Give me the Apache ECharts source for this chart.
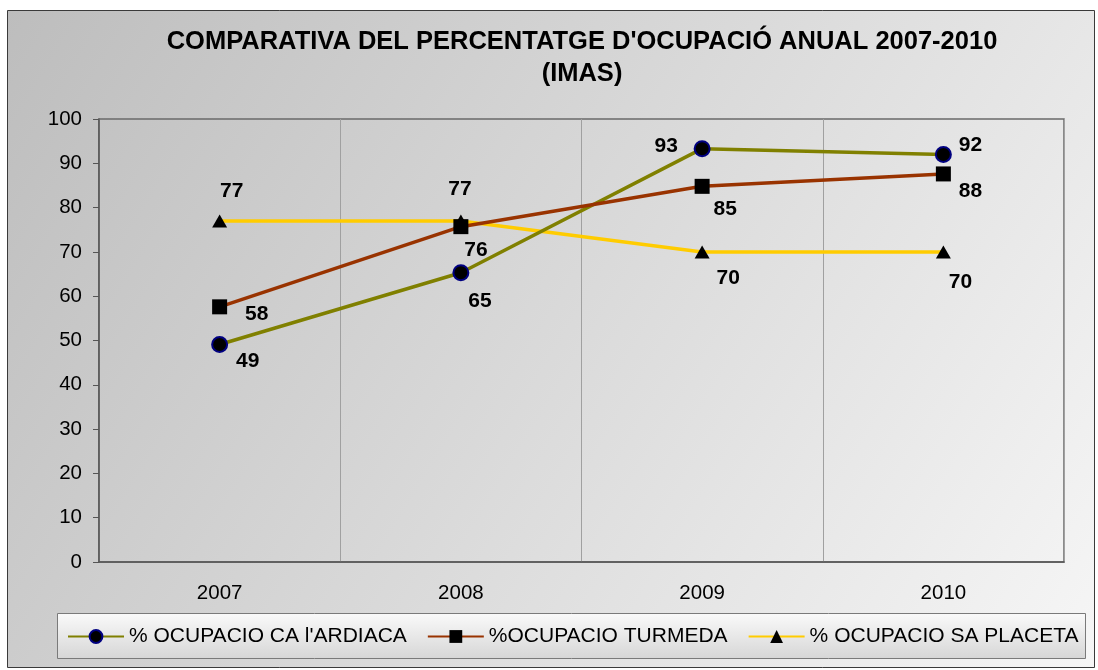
<!DOCTYPE html>
<html>
<head>
<meta charset="utf-8">
<script src="https://cdn.jsdelivr.net/npm/echarts@6/dist/echarts.min.js"></script>
<style>
html,body{margin:0;padding:0;background:#fff;}
#c{width:1098px;height:670px;}
</style>
</head>
<body>
<div id="c"></div>
<script>
// ---- data ----
const years = ['2007', '2008', '2009', '2010'];
const ardiaca = [49.1, 65.3, 93.3, 92.0];
const turmeda = [57.6, 75.7, 84.8, 87.6];
const placeta = [77, 77, 70, 70];
const seriesNames = ['% OCUPACIO CA l\'ARDIACA', '%OCUPACIO TURMEDA', '% OCUPACIO SA PLACETA'];
const titleLines = ['COMPARATIVA DEL PERCENTATGE D\'OCUPACIÓ ANUAL 2007-2010', '(IMAS)'];

// ---- label placement (style) ----
const labelOffsets = [
  [[28, 17], [19, 28], [-36, -2], [27, -9]],
  [[37, 7], [15, 24], [23, 23], [27, 17]],
  [[12, -30], [-1, -32], [26, 26], [17, 30]]
];

const FONT = '"Liberation Sans", Arial, sans-serif';
const chart = echarts.init(document.getElementById('c'), null, {renderer: 'canvas'});

function buildData(values, si) {
  return values.map((v, i) => ({
    value: v,
    label: {offset: labelOffsets[si][i]}
  }));
}

const labelCfg = {
  show: true,
  position: 'inside',
  formatter: p => Math.round(p.value),
  fontFamily: FONT,
  fontWeight: 'bold',
  fontSize: 21,
  color: '#000'
};

const option = {
  animation: false,
  graphic: [
    {
      type: 'rect', z: -10,
      shape: {x: 7.5, y: 10.5, width: 1087, height: 657},
      style: {
        fill: new echarts.graphic.LinearGradient(0, 0, 1, 1, [
          {offset: 0, color: '#bdbdbd'},
          {offset: 1, color: '#f6f6f6'}
        ]),
        stroke: '#3a3a3a', lineWidth: 1
      }
    },
    {
      type: 'rect', z: -5,
      shape: {x: 57.5, y: 613.5, width: 1028, height: 45},
      style: {
        fill: new echarts.graphic.LinearGradient(0, 0, 0, 1, [
          {offset: 0, color: '#fafafa'},
          {offset: 1, color: '#d6d6d6'}
        ]),
        stroke: '#7a7a7a', lineWidth: 1
      }
    },
    {
      type: 'text', x: 582, y: 42, z: 10,
      style: {text: titleLines[0], font: 'bold 25.5px ' + FONT, fill: '#000', align: 'center', verticalAlign: 'middle'}
    },
    {
      type: 'text', x: 582, y: 74, z: 10,
      style: {text: titleLines[1], font: 'bold 25.5px ' + FONT, fill: '#000', align: 'center', verticalAlign: 'middle'}
    }
  ],
  grid: {
    left: 99, right: 34, top: 119, bottom: 108,
    show: true, borderColor: '#6a6a6a', borderWidth: 1.5,
    backgroundColor: 'transparent'
  },
  legend: {
    left: 67, top: 626, padding: 0,
    itemWidth: 56, itemHeight: 16, itemGap: 20,
    textStyle: {fontFamily: FONT, fontSize: 21, color: '#000'},
    data: seriesNames
  },
  xAxis: {
    type: 'category',
    data: years,
    boundaryGap: true,
    axisLine: {lineStyle: {color: '#555', width: 1.5}},
    axisTick: {show: false},
    axisLabel: {fontFamily: FONT, fontSize: 20.5, color: '#000', margin: 21},
    splitLine: {show: true, lineStyle: {color: '#a0a0a0', width: 1}}
  },
  yAxis: {
    type: 'value',
    min: 0, max: 100, interval: 10,
    axisLine: {show: true, lineStyle: {color: '#555', width: 1.5}},
    axisTick: {show: true, length: 6, lineStyle: {color: '#555'}},
    axisLabel: {fontFamily: FONT, fontSize: 20.5, color: '#000', margin: 17},
    splitLine: {show: false}
  },
  series: [
    {
      name: seriesNames[0], type: 'line',
      data: buildData(ardiaca, 0),
      symbol: 'circle', symbolSize: 15,
      lineStyle: {color: '#808000', width: 3.5},
      itemStyle: {color: '#000', borderColor: '#000080', borderWidth: 2},
      label: labelCfg, z: 3
    },
    {
      name: seriesNames[1], type: 'line',
      data: buildData(turmeda, 1),
      symbol: 'rect', symbolSize: 15,
      lineStyle: {color: '#993300', width: 3.5},
      itemStyle: {color: '#000', borderWidth: 0},
      label: labelCfg, z: 4
    },
    {
      name: seriesNames[2], type: 'line',
      data: buildData(placeta, 2),
      symbol: 'triangle', symbolSize: [15, 13],
      lineStyle: {color: '#ffcc00', width: 3.5},
      itemStyle: {color: '#000', borderWidth: 0},
      label: labelCfg, z: 2
    }
  ]
};
chart.setOption(option);
</script>
</body>
</html>
